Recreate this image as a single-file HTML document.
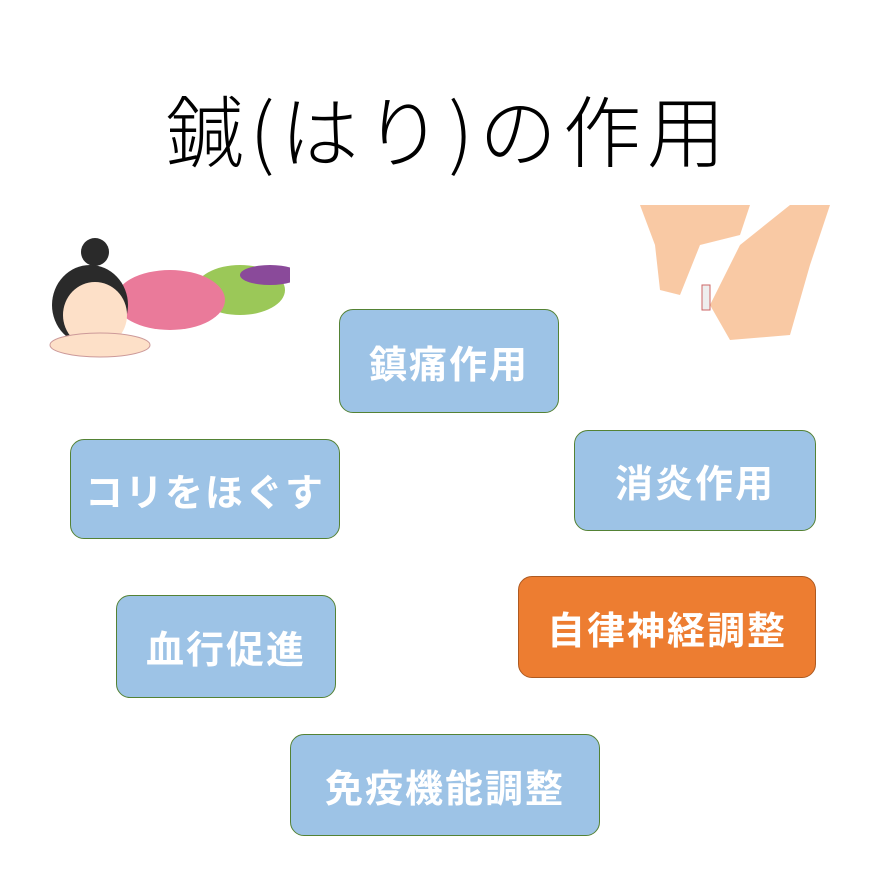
<!DOCTYPE html>
<html><head><meta charset="utf-8"><style>
body{margin:0;width:869px;height:869px;background:#fff;position:relative;overflow:hidden;font-family:"Liberation Sans","Noto Sans CJK JP",sans-serif}
.b{position:absolute;box-sizing:border-box;background:#9dc3e6;border:1.5px solid #548235;border-radius:14px;color:#fff;font-weight:bold;font-size:38px;display:flex;align-items:center;justify-content:center;letter-spacing:2px;font-family:"Noto Sans CJK JP",sans-serif}
.t{position:absolute;left:14px;width:869px;top:82px;text-align:center;font-size:78px;color:#000;font-family:"Noto Sans CJK JP",sans-serif;font-weight:300;letter-spacing:6px;line-height:1.2}
</style></head><body>
<div class="t">鍼(はり)の作用</div>
<svg style="position:absolute;left:40px;top:230px" width="250" height="130">
<ellipse cx="200" cy="60" rx="45" ry="25" fill="#9bc858"/>
<ellipse cx="230" cy="45" rx="30" ry="10" fill="#8a4a9a"/>
<ellipse cx="130" cy="70" rx="55" ry="30" fill="#ea7a9a"/>
<circle cx="55" cy="22" r="14" fill="#2a2a2a"/>
<ellipse cx="50" cy="75" rx="38" ry="40" fill="#2a2a2a"/>
<ellipse cx="55" cy="85" rx="32" ry="33" fill="#fde0c8"/>
<ellipse cx="60" cy="115" rx="50" ry="12" fill="#fde0c8" stroke="#c99" />
</svg>
<svg style="position:absolute;left:640px;top:205px" width="190" height="140">
<path d="M0 0 L110 0 L100 30 L60 40 L40 90 L20 85 L15 40 Z" fill="#f9c9a4"/>
<path d="M190 0 L150 0 L100 40 L70 100 L90 135 L150 130 L170 60 Z" fill="#f9c9a4"/>
<rect x="62" y="80" width="8" height="25" fill="#eee" stroke="#c66"/>
</svg>
<div class="b" style="left:339px;top:309px;width:220px;height:104px">鎮痛作用</div>
<div class="b" style="left:70px;top:439px;width:270px;height:100px">コリをほぐす</div>
<div class="b" style="left:574px;top:430px;width:242px;height:101px">消炎作用</div>
<div class="b" style="left:518px;top:576px;width:298px;height:102px;background:#ed7d31;border-color:#ae5a21">自律神経調整</div>
<div class="b" style="left:116px;top:595px;width:220px;height:103px">血行促進</div>
<div class="b" style="left:290px;top:734px;width:310px;height:102px">免疫機能調整</div>
</body></html>
